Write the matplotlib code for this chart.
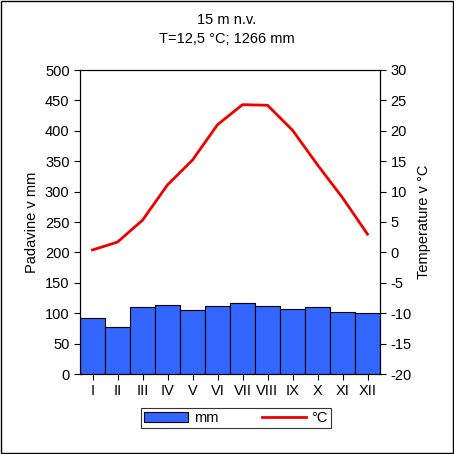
import matplotlib
matplotlib.use("Agg")
import matplotlib.pyplot as plt
from matplotlib.patches import Rectangle

months = ["I", "II", "III", "IV", "V", "VI", "VII", "VIII", "IX", "X", "XI", "XII"]
precip_mm = [92, 77, 110, 113, 105, 112, 117, 112, 107, 110, 102, 100]
temp_c = [0.4, 1.7, 5.3, 11.1, 15.2, 21.0, 24.3, 24.2, 20.1, 14.4, 9.0, 3.0]

plt.rcParams['font.family'] = ['Liberation Sans', 'DejaVu Sans']
plt.rcParams['font.size'] = 10.5
plt.rcParams['axes.unicode_minus'] = False

fig = plt.figure(figsize=(4.54, 4.54), dpi=100)
fig.patches.append(Rectangle((0.002, 0.002), 0.996, 0.996, transform=fig.transFigure,
                             fill=False, edgecolor='black', lw=1))
ax = fig.add_axes([80 / 454, 80 / 454, 300 / 454, 304 / 454])
x = range(len(months))
bars = ax.bar(x, precip_mm, width=1.0, color='#3366ff', edgecolor='black', lw=0.8, label='mm')
ax.set_xlim(-0.5, 11.5)
ax.set_ylim(0, 500)
ax.set_yticks(range(0, 501, 50))
ax.set_xticks(list(x))
ax.set_xticklabels(months)
ax.set_ylabel("Padavine v mm")
ax.tick_params(direction='out', length=4)

ax2 = ax.twinx()
line, = ax2.plot(x, temp_c, color='#ee0000', lw=2, label='°C')
ax2.set_ylim(-20, 30)
ax2.set_yticks(range(-20, 31, 5))
ax2.set_ylabel("Temperature v °C")
ax2.tick_params(direction='out', length=4)

fig.text(0.5, 0.955, "15 m n.v.", ha='center', va='center')
fig.text(0.5, 0.915, "T=12,5 °C; 1266 mm", ha='center', va='center')

leg = fig.legend([bars, line], ['mm', '°C'], loc='center', ncol=2,
                 bbox_to_anchor=(236 / 454, 1 - 418 / 454), frameon=True,
                 fancybox=False, edgecolor='black', handlelength=3, columnspacing=3,
                 borderpad=0.2, handletextpad=0.4)
leg.get_frame().set_linewidth(0.8)

fig.savefig("out.png", dpi=100)
